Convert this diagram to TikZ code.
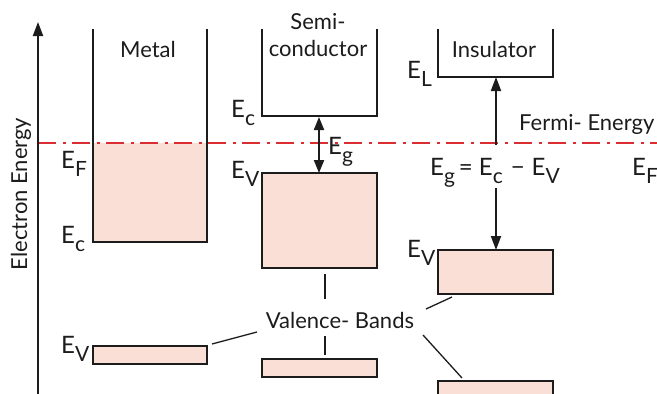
\documentclass[tikz,border=0pt]{standalone}
\usepackage{fontspec}
\setmainfont{Lato}
\usetikzlibrary{arrows.meta}
\definecolor{band}{RGB}{250,223,215}
\definecolor{fermi}{RGB}{218,45,50}
\definecolor{ink}{RGB}{28,28,28}
\newcommand{\Esub}[1]{E\raisebox{-8pt}{\fontsize{21}{21}\selectfont #1}}
\tikzset{
  bandline/.style={draw=ink, line width=2.2pt, line cap=butt, line join=miter},
  bandfill/.style={fill=band},
  lab/.style={inner sep=0pt, anchor=base west, text=ink, font=\fontsize{24}{27}\selectfont},
  title/.style={inner sep=0pt, anchor=base, text=ink, font=\fontsize{22}{25}\selectfont},
  leader/.style={draw=ink, line width=1.3pt},
  arr/.style={draw=ink, line width=2pt, -{Triangle[length=14pt,width=10pt]}},
  darr/.style={draw=ink, line width=2pt, {Triangle[length=13pt,width=10pt]}-{Triangle[length=13pt,width=10pt]}},
  fermiline/.style={draw=fermi, line width=2pt, dash pattern=on 18pt off 6.5pt on 3pt off 6.5pt}
}
\begin{document}
\begin{tikzpicture}[x=1pt,y=-1pt]
\useasboundingbox (0,0) rectangle (657,394);
\begin{scope}
\clip (0,0) rectangle (657,394);
% Fermi level
\coordinate (fl) at (38,143);
\coordinate (fr) at (657,143);
% Metal
\fill[bandfill] (93,143) rectangle (207,242);
\draw[bandline] (93,29) -- (93,242) -- (207,242) -- (207,29);
\filldraw[bandfill,bandline] (93,346) rectangle (207,364);
% Semiconductor
\draw[bandline] (262,29) -- (262,116) -- (377,116) -- (377,29);
\filldraw[bandfill,bandline] (262,173) rectangle (377,268);
\filldraw[bandfill,bandline] (262,359) rectangle (377,377);
% Insulator
\draw[bandline] (438,29) -- (438,77) -- (553,77) -- (553,29);
\filldraw[bandfill,bandline] (438,250) rectangle (553,294);
\filldraw[bandfill,bandline] (438,381) rectangle (553,400);
% Fermi line
\draw[fermiline] (fl) -- (fr);
% axis
\coordinate (ab) at (38,394);
\coordinate (at) at (38,22);
\draw[arr] (ab) -- (at);
\node[rotate=90, text=ink, font=\fontsize{22}{25}\selectfont, inner sep=0pt] (axl) at (21,194) {Electron Energy};
% titles
\node[title] (tmetal) at (148,57) {Metal};
\node[title] (tsemi1) at (318,29) {Semi-};
\node[title] (tsemi2) at (318,56) {conductor};
\node[title] (tins) at (494,57) {Insulator};
% metal labels
\node[lab] (mef) at (61,168) {\Esub{F}};
\node[lab] (mec) at (61,243) {\Esub{c}};
\node[lab] (mev) at (61,353) {\Esub{V}};
% semiconductor labels
\node[lab] (sec) at (231,117) {\Esub{c}};
\node[lab] (sev) at (231,178) {\Esub{V}};
\node[lab] (seg) at (328,154) {\Esub{g}};
\coordinate (sgt) at (319,117);
\coordinate (sgb) at (319,173);
\draw[darr] (sgt) -- (sgb);
% insulator labels
\node[lab] (iel) at (407,78) {\Esub{L}};
\node[lab] (iev) at (407,257) {\Esub{V}};
\node[lab] (eq) at (430,175) {\Esub{g}\hspace{4pt}=\hspace{6pt}\Esub{c}\hspace{8pt}−\hspace{7pt}\Esub{V}};
\coordinate (iu0) at (496,145);
\coordinate (iu1) at (496,77);
\draw[arr] (iu0) -- (iu1);
\coordinate (id0) at (496,188);
\coordinate (id1) at (496,250);
\draw[arr] (id0) -- (id1);
% Fermi labels
\node[inner sep=0pt, anchor=base west, text=ink, font=\fontsize{22}{25}\selectfont] (fe) at (519,130) {Fermi- Energy};
\node[lab] (efr) at (632,175) {\Esub{F}};
% Valence bands
\node[title] (vb) at (340,328) {Valence- Bands};
\coordinate (m1) at (212,344); \coordinate (m2) at (257,332);
\draw[leader] (m1) -- (m2);
\coordinate (s1) at (325,274); \coordinate (s2) at (325,299);
\draw[leader] (s1) -- (s2);
\coordinate (s3) at (325,336); \coordinate (s4) at (325,355);
\draw[leader] (s3) -- (s4);
\coordinate (i1) at (452,297); \coordinate (i2) at (426,309);
\draw[leader] (i1) -- (i2);
\coordinate (i3) at (423,335); \coordinate (i4) at (462,378);
\draw[leader] (i3) -- (i4);
\end{scope}
\end{tikzpicture}
\end{document}
